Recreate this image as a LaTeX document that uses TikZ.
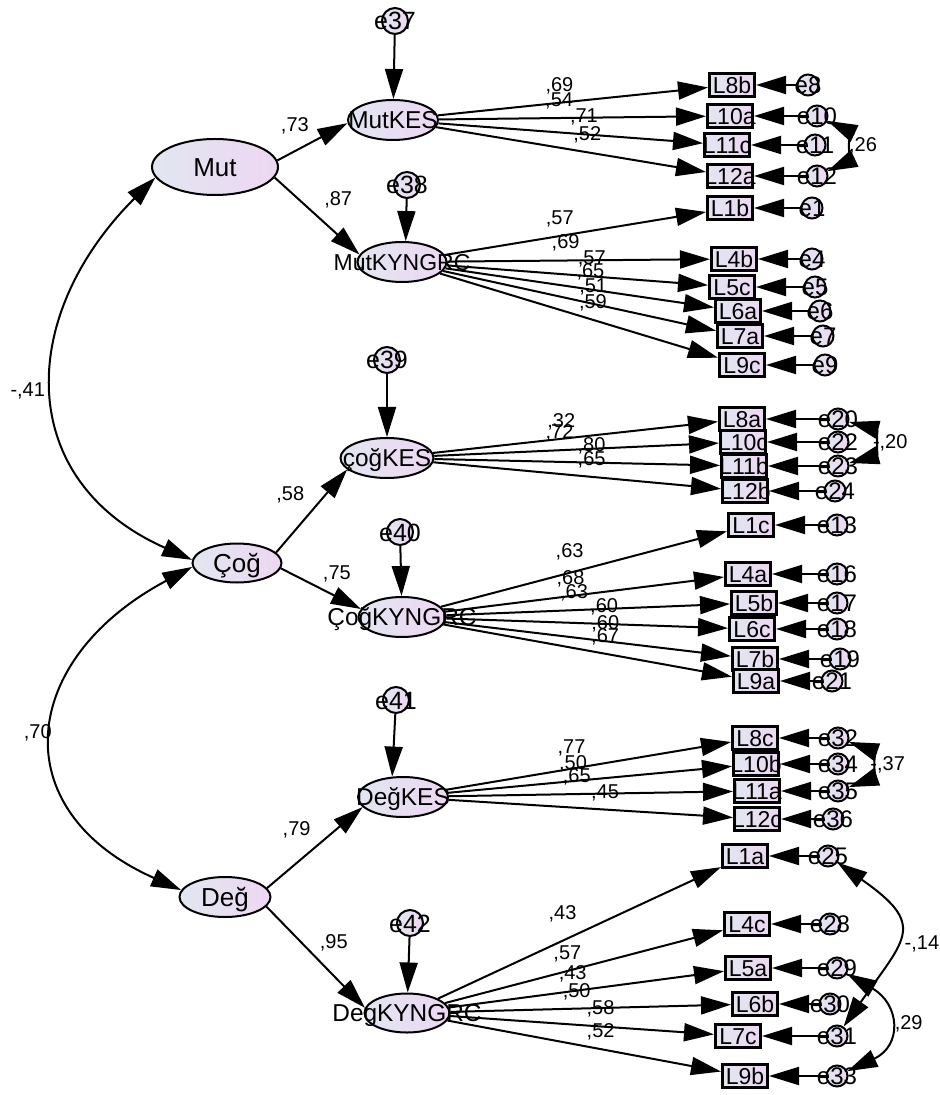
\documentclass[tikz,border=0pt]{standalone}
\usepackage{fontspec}
\setmainfont{Liberation Sans}
\usetikzlibrary{arrows.meta,shapes.geometric}
\definecolor{lavL}{RGB}{226,230,241}
\definecolor{lavR}{RGB}{237,215,242}
\newcommand{\zw}[1]{\makebox[0pt]{#1}}

\begin{document}
\begin{tikzpicture}[x=0.5pt,y=-0.5pt,>={Triangle[length=15pt,width=9pt]},line width=1pt,
  latent/.style={ellipse,draw,line width=1pt,left color=lavL,right color=lavR,inner sep=0pt,text height=9.2pt,text depth=0pt,font=\fontsize{13}{13}\selectfont},
  factor/.style={latent,minimum width=45pt,minimum height=20pt,text height=8.7pt,font=\fontsize{12.2}{13}\selectfont},
  resid/.style={circle,draw,line width=1pt,left color=lavL,right color=lavR,inner sep=0pt,minimum size=13pt,text height=9pt,text depth=0pt,font=\fontsize{12.5}{13}\selectfont},
  err/.style={resid,minimum size=10.5pt,text height=8.4pt,font=\fontsize{12}{12}\selectfont},
  ind/.style={rectangle,draw,line width=1.5pt,left color=lavL,right color=lavR,inner sep=0pt,minimum width=22.5pt,minimum height=11.5pt,text height=8.1pt,text depth=0pt,font=\fontsize{11.5}{12}\selectfont},
  lbl/.style={font=\fontsize{10}{10}\selectfont,inner sep=1pt},
  load/.style={lbl,above=3pt},
  cov/.style={<->}]
  \useasboundingbox (0,0) rectangle (939,1095);

  % latent variables
  \node[latent,minimum width=63pt,minimum height=28pt] (Mut) at (215,167) {\zw{Mut}};
  \node[latent,minimum width=44.5pt,minimum height=19.5pt] (Cog) at (237,563) {\zw{Çoğ}};
  \node[latent,minimum width=45.5pt,minimum height=20pt] (Deg) at (225,897) {\zw{Değ}};

  \node[factor] (MutKES) at (393,120) {\zw{MutKES}};
  \node[factor,minimum width=44.5pt,font=\fontsize{11.5}{12}\selectfont] (MutKYN) at (402,262) {\zw{MutKYNGRC}};
  \node[factor,minimum width=46.5pt] (CogKES) at (387,458) {\zw{çoğKES}};
  \node[factor,minimum width=43.5pt] (CogKYN) at (402,617) {\zw{ÇoğKYNGRC}};
  \node[factor] (DegKES) at (403,797) {\zw{DeğKES}};
  \node[factor,minimum width=42.5pt,minimum height=19.5pt] (DegKYN) at (407,1013) {\zw{DegKYNGRC}};

  \node[resid] (e37) at (395,21) {\zw{e37}};
  \node[resid] (e38) at (407,185) {\zw{e38}};
  \node[resid] (e39) at (387,360) {\zw{e39}};
  \node[resid] (e40) at (400,532) {\zw{e40}};
  \node[resid] (e41) at (396,700) {\zw{e41}};
  \node[resid] (e42) at (410,923) {\zw{e42}};

  % indicators, Mut
  \node[ind] (L8b) at (732,85) {\zw{L8b}};
  \node[ind] (L10a) at (730,116) {\zw{L10a}};
  \node[ind] (L11c) at (727,145) {\zw{L11c}};
  \node[ind] (L12a) at (730,176) {\zw{L12a}};
  \node[ind] (L1b) at (730,208) {\zw{L1b}};
  \node[ind] (L4b) at (734,259) {\zw{L4b}};
  \node[ind] (L5c) at (732,287) {\zw{L5c}};
  \node[ind] (L6a) at (738,311) {\zw{L6a}};
  \node[ind] (L7a) at (740,336) {\zw{L7a}};
  \node[ind] (L9c) at (742,365) {\zw{L9c}};
  \node[err] (e8) at (808,85) {\zw{e8}};
  \node[err] (e10) at (817,116) {\zw{e10}};
  \node[err] (e11) at (815,145) {\zw{e11}};
  \node[err] (e12) at (817,176) {\zw{e12}};
  \node[err] (e1) at (812,208) {\zw{e1}};
  \node[err] (e4) at (812,259) {\zw{e4}};
  \node[err] (e5) at (815,287) {\zw{e5}};
  \node[err] (e6) at (820,311) {\zw{e6}};
  \node[err] (e7) at (823,336) {\zw{e7}};
  \node[err] (e9) at (825,365) {\zw{e9}};

  % indicators, Çoğ
  \node[ind] (L8a) at (742,419) {\zw{L8a}};
  \node[ind] (L10c) at (743,442) {\zw{L10c}};
  \node[ind] (L11b) at (744,466) {\zw{L11b}};
  \node[ind] (L12b) at (745,491) {\zw{L12b}};
  \node[ind] (L1c) at (751,525) {\zw{L1c}};
  \node[ind] (L4a) at (748,574) {\zw{L4a}};
  \node[ind] (L5b) at (754,603) {\zw{L5b}};
  \node[ind] (L6c) at (752,629) {\zw{L6c}};
  \node[ind] (L7b) at (755,659) {\zw{L7b}};
  \node[ind] (L9a) at (756,681) {\zw{L9a}};
  \node[err] (e20) at (838,419) {\zw{e20}};
  \node[err] (e22) at (838,442) {\zw{e22}};
  \node[err] (e23) at (838,466) {\zw{e23}};
  \node[err] (e24) at (835,491) {\zw{e24}};
  \node[err] (e13) at (837,525) {\zw{e13}};
  \node[err] (e16) at (837,574) {\zw{e16}};
  \node[err] (e17) at (837,603) {\zw{e17}};
  \node[err] (e18) at (837,629) {\zw{e18}};
  \node[err] (e19) at (840,659) {\zw{e19}};
  \node[err] (e21) at (832,681) {\zw{e21}};

  % indicators, Değ
  \node[ind] (L8c) at (755,738) {\zw{L8c}};
  \node[ind] (L10b) at (756,764) {\zw{L10b}};
  \node[ind] (L11a) at (757,791) {\zw{L11a}};
  \node[ind] (L12c) at (757,819) {\zw{L12c}};
  \node[ind] (L1a) at (745,856) {\zw{L1a}};
  \node[ind] (L4c) at (747,924) {\zw{L4c}};
  \node[ind] (L5a) at (748,968) {\zw{L5a}};
  \node[ind] (L6b) at (755,1004) {\zw{L6b}};
  \node[ind] (L7c) at (738,1036) {\zw{L7c}};
  \node[ind] (L9b) at (745,1076) {\zw{L9b}};
  \node[err] (e32) at (838,738) {\zw{e32}};
  \node[err] (e34) at (838,764) {\zw{e34}};
  \node[err] (e35) at (838,791) {\zw{e35}};
  \node[err] (e36) at (833,819) {\zw{e36}};
  \node[err] (e25) at (828,856) {\zw{e25}};
  \node[err] (e28) at (830,924) {\zw{e28}};
  \node[err] (e29) at (837,968) {\zw{e29}};
  \node[err] (e30) at (830,1004) {\zw{e30}};
  \node[err] (e31) at (837,1036) {\zw{e31}};
  \node[err] (e33) at (837,1076) {\zw{e33}};

  % structural paths
  \path[->] (Mut.6) edge node[lbl,pos=.25,above=7pt] {,73} (MutKES.184)
            (Mut.-10) edge node[lbl,pos=.29,right=11pt] {,87} (MutKYN.170)
            (Cog.15) edge node[lbl,pos=.69,left=9pt] {,58} (CogKES.196)
            (Cog.-7) edge node[lbl,pos=.7,above=6pt] {,75} (CogKYN.169)
            (Deg.12) edge node[lbl,pos=.716,left=11pt] {,79} (DegKES.194)
            (Deg.-13) edge node[lbl,pos=.36,right=7.5pt] {,95} (DegKYN.173);
  \path[->] (e37) edge (MutKES)
            (e38) edge (MutKYN.80)
            (e39) edge (CogKES)
            (e40) edge (CogKYN)
            (e41) edge (DegKES.118)
            (e42) edge (DegKYN);

  % loadings
  \path[->] (MutKES) edge node[load,pos=.45] {,69} (L8b)
            (MutKES) edge node[load,pos=.45] {,54} (L10a)
            (MutKES) edge node[load,pos=.55] {,71} (L11c)
            (MutKES) edge node[load,pos=.56] {,52} (L12a)
            (MutKYN) edge node[load,pos=.44] {,57} (L1b)
            (MutKYN) edge node[load,pos=.45] {,69} (L4b)
            (MutKYN) edge node[load,pos=.555] {,57} (L5c)
            (MutKYN) edge node[load,pos=.54] {,65} (L6a)
            (MutKYN) edge node[load,pos=.55] {,51} (L7a)
            (MutKYN) edge node[load,pos=.55] {,59} (L9c)
            (CogKES) edge node[load,pos=.45] {,32} (L8a)
            (CogKES) edge node[load,pos=.44] {,72} (L10c)
            (CogKES) edge node[load,pos=.55] {,80} (L11b)
            (CogKES) edge node[load,pos=.55] {,65} (L12b)
            (CogKYN) edge node[load,pos=.45,yshift=2pt] {,63} (L1c)
            (CogKYN) edge node[load,pos=.45] {,68} (L4a)
            (CogKYN) edge node[load,pos=.45] {,63} (L5b)
            (CogKYN) edge node[load,pos=.56] {,60} (L6c)
            (CogKYN) edge node[load,pos=.56] {,60} (L7b)
            (CogKYN) edge node[load,pos=.56] {,67} (L9a)
            (DegKES) edge node[load,pos=.44,yshift=2pt] {,77} (L8c)
            (DegKES) edge node[load,pos=.44] {,50} (L10b)
            (DegKES) edge node[load,pos=.45] {,65} (L11a)
            (DegKES) edge node[load,pos=.55] {,45} (L12c)
            (DegKYN) edge node[load,pos=.44,yshift=5pt] {,43} (L1a)
            (DegKYN) edge node[load,pos=.44] {,57} (L4c)
            (DegKYN) edge node[load,pos=.45] {,43} (L5a)
            (DegKYN) edge node[load,pos=.45] {,50} (L6b)
            (DegKYN) edge node[load,pos=.57] {,58} (L7c)
            (DegKYN) edge node[load,pos=.56] {,52} (L9b);

  % measurement errors
  \path[->] (e8) edge (L8b) (e10) edge (L10a) (e11) edge (L11c) (e12) edge (L12a)
            (e1) edge (L1b) (e4) edge (L4b) (e5) edge (L5c) (e6) edge (L6a) (e7) edge (L7a) (e9) edge (L9c)
            (e20) edge (L8a) (e22) edge (L10c) (e23) edge (L11b) (e24) edge (L12b)
            (e13) edge (L1c) (e16) edge (L4a) (e17) edge (L5b) (e18) edge (L6c) (e19) edge (L7b) (e21) edge (L9a)
            (e32) edge (L8c) (e34) edge (L10b) (e35) edge (L11a) (e36) edge (L12c)
            (e25) edge (L1a) (e28) edge (L4c) (e29) edge (L5a) (e30) edge (L6b) (e31) edge (L7c) (e33) edge (L9b);

  % covariances
  \path[cov] (Mut.190) edge[out=225,in=156,looseness=1.3] node[lbl,left=3.5pt] {-,41} (Cog.176)
             (Cog.185) edge[out=208,in=156,looseness=1.55] node[lbl,left=0pt] {,70} (Deg.171)
             (e10) edge[out=-25,in=25,looseness=1.1] node[lbl,right=2pt] {,26} (e12)
             (e20) edge[out=-15,in=15,looseness=1.8] node[lbl,right=0pt] {-,20} (e23)
             (e32) edge[out=-20,in=20,looseness=1.5] node[lbl,right=0pt] {-,37} (e35)
             (e25) edge[out=-35,in=55,looseness=1.7] node[lbl,pos=.57,right=3pt] {-,14} (e31)
             (e29) edge[out=-30,in=25,looseness=1.6] node[lbl,right=2pt] {,29} (e33);
\end{tikzpicture}
\end{document}
